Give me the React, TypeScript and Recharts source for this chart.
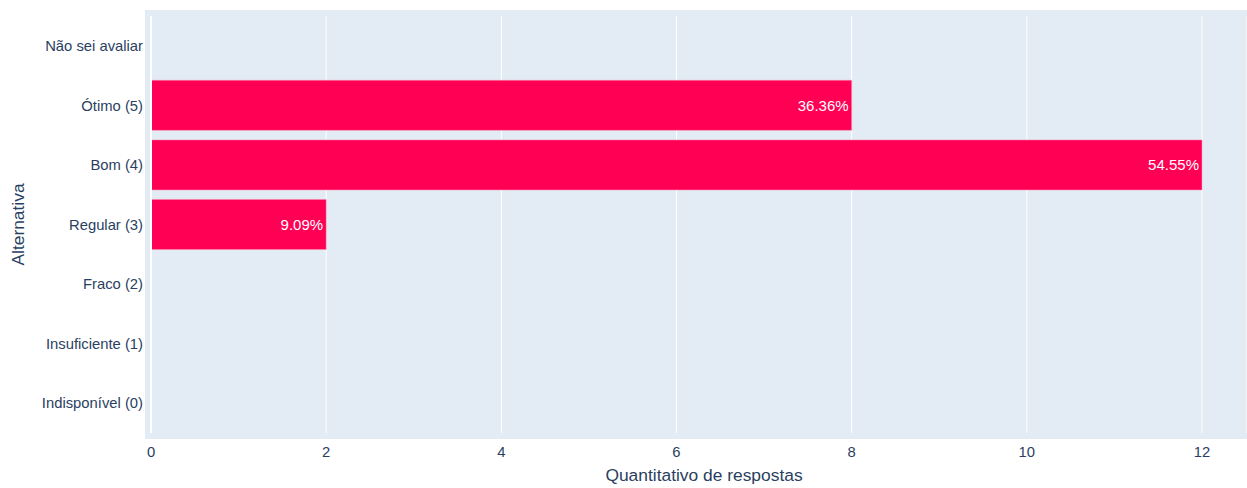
import {
  Bar,
  BarChart,
  CartesianGrid,
  LabelList,
  ReferenceLine,
  XAxis,
  YAxis,
} from "recharts"

const ALTERNATIVES = [
  "Não sei avaliar",
  "Ótimo (5)",
  "Bom (4)",
  "Regular (3)",
  "Fraco (2)",
  "Insuficiente (1)",
  "Indisponível (0)",
]

const RESPONSES = [0, 8, 12, 2, 0, 0, 0]

const X_TICKS = [0, 2, 4, 6, 8, 10, 12]

const TOTAL = RESPONSES.reduce((a, b) => a + b, 0)

const data = ALTERNATIVES.map((name, i) => ({ name, value: RESPONSES[i]! }))

const FONT = '"Liberation Sans", Arial, sans-serif'
const INK = "#2a3f5f"

function pct(v: number) {
  return `${((v / TOTAL) * 100).toFixed(2)}%`
}

export default function App() {
  return (
    <div style={{ position: "absolute", left: 0, top: 0, width: 1247, height: 488, fontFamily: FONT }}>
      {/* plot background, padded a few px beyond the axis range like plotly */}
      <div style={{ position: "absolute", left: 145, top: 10, width: 1102, height: 429, background: "#E3EBF5" }} />
      <div style={{ position: "absolute", left: 0, top: 0 }}>
        <BarChart
          width={1247}
          height={488}
          data={data}
          layout="vertical"
          margin={{ top: 16, right: 0, bottom: 0, left: 0 }}
          barCategoryGap="8%"
        >
          <CartesianGrid horizontal={false} stroke="#ffffff" strokeWidth={1} />
          <XAxis
            type="number"
            domain={[0, 12.514]}
            ticks={X_TICKS}
            allowDataOverflow
            height={55}
            tickLine={false}
            axisLine={false}
            tickSize={0}
            tickMargin={13}
            tick={{ fill: INK, fontSize: 14.8, fontFamily: FONT }}
            label={{
              value: "Quantitativo de respostas",
              position: "insideBottom",
              offset: 7,
              dx: 5,
              style: { fill: INK, fontSize: 17.4, fontFamily: FONT },
            }}
          />
          <YAxis
            type="category"
            dataKey="name"
            width={151}
            tickLine={false}
            axisLine={false}
            tickSize={0}
            tickMargin={8}
            interval={0}
            tick={{ fill: INK, fontSize: 14.8, fontFamily: FONT }}
            label={{
              value: "Alternativa",
              angle: -90,
              position: "insideLeft",
              offset: 18,
              style: { fill: INK, fontSize: 17.4, fontFamily: FONT, textAnchor: "middle" },
            }}
          />
          <ReferenceLine x={0} stroke="#ffffff" strokeWidth={2} />
          <Bar dataKey="value" fill="#FF0055" stroke="#ff86ab" strokeWidth={0.5} isAnimationActive={false}>
            <LabelList
              dataKey="value"
              position="insideRight"
              offset={3}
              fill="#ffffff"
              style={{ fontSize: 15, fontFamily: FONT }}
              formatter={(v: any) => (Number(v) > 0 ? pct(Number(v)) : "")}
            />
          </Bar>
        </BarChart>
      </div>
    </div>
  )
}
